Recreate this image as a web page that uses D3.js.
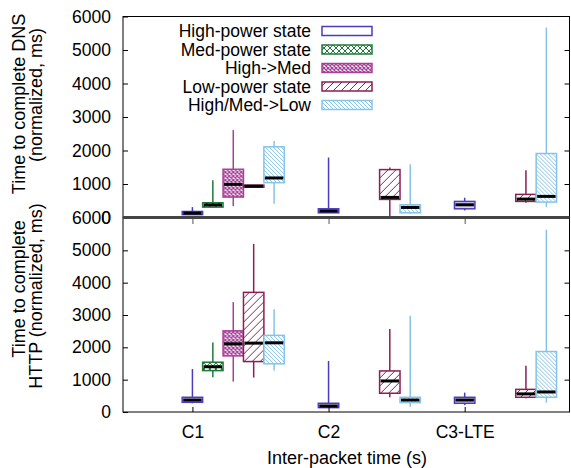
<!DOCTYPE html>
<html>
<head>
<meta charset="utf-8">
<script src="https://cdn.jsdelivr.net/npm/d3@7"></script>
<style>
  body { margin: 0; background: #fff; }
  text { font-family: "Liberation Sans", Arial, sans-serif; }
</style>
</head>
<body>
<script>
const groups = ["C1", "C2", "C3-LTE"];
const series = ["High-power state", "Med-power state", "High->Med", "Low-power state", "High/Med->Low"];
const yTicks = [0, 1000, 2000, 3000, 4000, 5000, 6000];

// rows: [group, series, min, q1, median, q3, max]
const dnsRows = [
  [0, 0, 80, 85, 130, 180, 310],
  [0, 1, 290, 310, 375, 440, 1110],
  [0, 2, 340, 610, 990, 1440, 2610],
  [0, 3, 900, 905, 935, 965, 970],
  [0, 4, 410, 1040, 1180, 2110, 2280],
  [1, 0, 150, 140, 195, 260, 1790],
  [1, 3, 10, 540, 600, 1430, 1490],
  [1, 4, 120, 140, 300, 380, 1590],
  [2, 0, 210, 260, 380, 480, 590],
  [2, 3, 440, 480, 550, 690, 1410],
  [2, 4, 310, 460, 630, 1910, 5670]
];
const httpRows = [
  [0, 0, 270, 300, 370, 455, 1330],
  [0, 1, 1075, 1280, 1400, 1540, 2150],
  [0, 2, 940, 1735, 2110, 2510, 3400],
  [0, 3, 1065, 1560, 2130, 3700, 5200],
  [0, 4, 1280, 1490, 2140, 2370, 3180],
  [1, 0, 150, 135, 185, 270, 1580],
  [1, 3, 455, 580, 960, 1270, 2570],
  [1, 4, 165, 290, 370, 455, 2980],
  [2, 0, 215, 270, 370, 455, 600],
  [2, 3, 425, 455, 560, 700, 1430],
  [2, 4, 290, 455, 620, 1870, 5640]
];

const W = 571, H = 468;
const L = 123, R = 569.5;
const colors = ["#4a3cbf", "#1f7a3a", "#a8409a", "#8b1e55", "#86c3e6"];
const fills = ["#d4d4ec", "url(#p1)", "url(#p2)", "url(#p3)", "url(#p4)"];

const svg = d3.select("body").append("svg")
  .attr("width", W)
  .attr("height", H);

const defs = svg.append("defs");
function pattern(id, size, d, color, sw) {
  const p = defs.append("pattern")
    .attr("id", id)
    .attr("patternUnits", "userSpaceOnUse")
    .attr("width", size)
    .attr("height", size);
  p.append("rect").attr("width", size).attr("height", size).attr("fill", "#fff");
  p.append("path").attr("d", d).attr("stroke", color).attr("stroke-width", sw).attr("fill", "none");
}
pattern("p1", 6, "M0,0L6,6M0,6L6,0", colors[1], 1);
pattern("p2", 4, "M0,0L4,4M0,4L4,0", colors[2], 1.3);
pattern("p3", 8, "M0,8L8,0M-2,2L2,-2M6,10L10,6", colors[3], 1);
pattern("p4", 4, "M0,0L4,4M-1,3L1,5M3,-1L5,1", colors[4], 1);

const x = d3.scaleLinear().domain([0.49, 3.77]).range([L, R]);
const step = x(1.15) - x(1);

function panel(rows, top, bottom) {
  const y = d3.scaleLinear().domain([0, 6000]).range([bottom, top]);
  const g = svg.append("g");

  g.append("g")
    .attr("transform", `translate(${L},0)`)
    .call(d3.axisLeft(y).tickValues(yTicks).tickFormat(d3.format("d")).tickSizeInner(-5).tickSizeOuter(0).tickPadding(12))
    .call(a => a.select(".domain").remove())
    .call(a => a.selectAll("text").style("font-size", "17.5px").attr("fill", "#000"));

  g.append("g")
    .attr("transform", `translate(${R},0)`)
    .call(d3.axisRight(y).tickValues(yTicks.slice(1, -1)).tickSizeInner(-5).tickSizeOuter(0).tickFormat(""))
    .call(a => a.select(".domain").remove());

  g.append("rect")
    .attr("x", L).attr("y", top)
    .attr("width", R - L).attr("height", bottom - top)
    .attr("fill", "none").attr("stroke", "#000");

  const box = g.selectAll(".box")
    .data(rows)
    .enter()
    .append("g")
    .attr("transform", d => `translate(${x(d[0] + 1) + d[1] * step},0)`);

  box.append("line")
    .attr("y1", d => y(d[2]))
    .attr("y2", d => y(d[6]))
    .attr("stroke", d => colors[d[1]])
    .attr("stroke-width", 1.5);

  box.append("rect")
    .attr("x", -step / 2)
    .attr("width", step)
    .attr("y", d => y(d[5]))
    .attr("height", d => Math.max(1, y(d[3]) - y(d[5])))
    .attr("fill", d => fills[d[1]])
    .attr("stroke", d => colors[d[1]])
    .attr("stroke-width", 1.5);

  box.append("line")
    .attr("x1", -step / 2 + 1)
    .attr("x2", step / 2 - 1)
    .attr("y1", d => y(d[4]))
    .attr("y2", d => y(d[4]))
    .attr("stroke", "#000")
    .attr("stroke-width", 3);

  return y;
}

panel(dnsRows, 16.5, 217.5);
panel(httpRows, 218, 412);

// x axis of the bottom panel, with mirror ticks on its top edge
svg.append("g")
  .attr("transform", "translate(0,412)")
  .call(d3.axisBottom(x).tickValues([1, 2, 3]).tickFormat((d, i) => groups[i]).tickSizeInner(-5).tickSizeOuter(0).tickPadding(14))
  .call(a => a.select(".domain").remove())
  .call(a => a.selectAll("text").style("font-size", "17.5px").attr("fill", "#000"));

svg.append("g")
  .attr("transform", "translate(0,219)")
  .call(d3.axisBottom(x).tickValues([1, 2, 3]).tickSizeInner(5).tickSizeOuter(0).tickFormat(""))
  .call(a => a.select(".domain").remove())
  .call(a => a.selectAll("line").attr("stroke", "#555"));

// thick separator between the panels
svg.append("line")
  .attr("x1", L).attr("x2", R)
  .attr("y1", 217.5).attr("y2", 217.5)
  .attr("stroke", "#444")
  .attr("stroke-width", 3);

svg.append("text")
  .attr("x", 347)
  .attr("y", 464)
  .attr("text-anchor", "middle")
  .style("font-size", "18px")
  .text("Inter-packet time (s)");

function ylabel(lines, cy) {
  lines.forEach((t, i) => {
    svg.append("text")
      .attr("transform", `translate(${25 + i * 17},${cy[i]}) rotate(-90)`)
      .attr("text-anchor", "middle")
      .style("font-size", "18px")
      .text(t);
  });
}
ylabel(["Time to complete DNS", "(normalized, ms)"], [104, 95]);
ylabel(["Time to complete", "HTTP (normalized, ms)"], [289, 296]);

// legend
const legend = svg.append("g");
series.forEach((s, i) => {
  const ly = 31 + i * 18.5;
  legend.append("text")
    .attr("x", 311)
    .attr("y", ly + 6)
    .attr("text-anchor", "end")
    .style("font-size", "17.5px")
    .text(s);
  legend.append("rect")
    .attr("x", 322)
    .attr("y", ly - 4.5)
    .attr("width", 50)
    .attr("height", 9)
    .attr("fill", i === 0 ? "#fff" : fills[i])
    .attr("stroke", colors[i])
    .attr("stroke-width", 1.5);
});
</script>
</body>
</html>
